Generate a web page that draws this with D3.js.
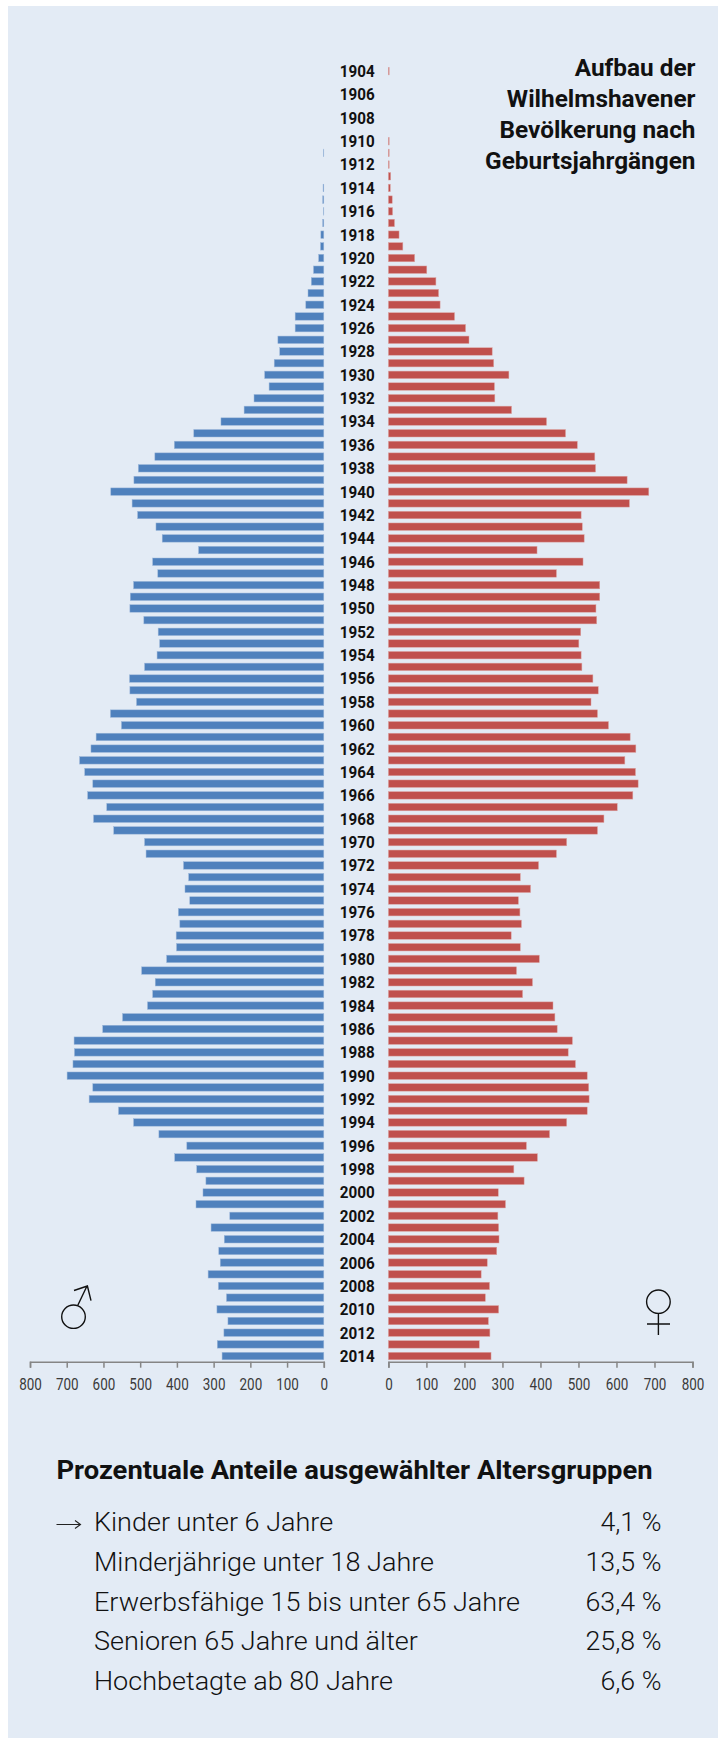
<!DOCTYPE html>
<html lang="de"><head><meta charset="utf-8">
<style>html,body{margin:0;padding:0;background:#fff}svg{display:block}text{font-family:Roboto,sans-serif}</style>
<script src="https://cdn.jsdelivr.net/npm/d3@7"></script></head><body>
<div id="chart"></div>
<script>
const firstYear = 1904;
const male = [0,0,0,0,0,0,0,1,0,0,2,3,1,3,8,9,14,28,34,43,49,78,78,125,120,135,161,149,190,217,280,354,407,460,505,517,580,522,507,457,440,341,466,452,518,527,528,490,451,447,454,488,529,528,510,581,551,620,634,665,651,629,643,591,627,572,488,484,382,368,378,365,396,392,402,401,428,496,459,466,480,548,602,680,679,683,699,629,639,559,518,449,373,406,346,321,329,348,256,307,271,286,282,315,287,265,291,261,272,290,277];
const female = [2,0,0,0,0,0,2,2,2,6,5,10,11,16,28,38,69,101,125,132,136,174,203,212,273,277,317,279,280,324,416,466,497,543,545,628,685,634,507,510,515,391,512,442,556,556,546,548,506,501,507,509,538,552,533,550,579,636,651,622,650,657,643,602,567,550,469,442,395,347,374,342,346,350,323,347,397,337,379,353,433,438,444,484,473,492,523,527,528,523,469,424,363,392,330,357,289,308,288,290,291,285,260,244,266,255,290,263,267,239,270];
const years = male.map((_, i) => firstYear + i);
const axisTicks = [0,100,200,300,400,500,600,700,800];
const titleLines = ["Aufbau der","Wilhelmshavener","Bevölkerung nach","Geburtsjahrgängen"];
const tableHeading = "Prozentuale Anteile ausgewählter Altersgruppen";
const groupLabels = ["Kinder unter 6 Jahre","Minderjährige unter 18 Jahre","Erwerbsfähige 15 bis unter 65 Jahre","Senioren 65 Jahre und älter","Hochbetagte ab 80 Jahre"];
const groupShares = ["4,1 %","13,5 %","63,4 %","25,8 %","6,6 %"];

const W = 726, H = 1738, BLUE = "#4f81bd", RED = "#c0504d", AXIS = "#858585", INK = "#111";
const svg = d3.select("#chart").append("svg").attr("width", W).attr("height", H);
svg.append("rect").attr("x", 8).attr("y", 6).attr("width", 710).attr("height", 1732).attr("fill", "#e3ebf5");

const xL = d3.scaleLinear().domain([0, 800]).range([323.8, 30]);
const xR = d3.scaleLinear().domain([0, 800]).range([388.4, 692.5]);
const y = d3.scaleBand().domain(years).range([65.3, 1361.9]).paddingInner(0.36).paddingOuter(0.18);

// squeeze or widen a text horizontally so that the DIN-like proportions are matched
function fit(sel, factor) {
  sel.each(function () {
    const l = this.getComputedTextLength();
    d3.select(this).attr("textLength", l * factor).attr("lengthAdjust", "spacingAndGlyphs");
  });
  return sel;
}

svg.append("g").selectAll("rect").data(male).join("rect")
  .attr("x", d => xL(d)).attr("width", d => xL(0) - xL(d))
  .attr("y", (d, i) => y(years[i])).attr("height", y.bandwidth())
  .attr("fill", BLUE).attr("stroke", "#9db8da").attr("stroke-width", d => d ? 0.5 : 0);
svg.append("g").selectAll("rect").data(female).join("rect")
  .attr("x", xR(0)).attr("width", d => xR(d) - xR(0))
  .attr("y", (d, i) => y(years[i])).attr("height", y.bandwidth())
  .attr("fill", RED).attr("stroke", "#dba5a4").attr("stroke-width", d => d ? 0.5 : 0);

// year labels
fit(svg.append("g").selectAll("text").data(years.filter(v => v % 2 === 0)).join("text")
  .attr("x", 357.2).attr("y", d => y(d) + y.bandwidth() / 2 + 5.9)
  .attr("text-anchor", "middle").attr("font-size", 16).attr("font-weight", 700).attr("fill", INK)
  .text(d => d), 0.95);

// axes
[[xL, "axis-l"], [xR, "axis-r"]].forEach(([s, c]) => {
  const g = svg.append("g").attr("class", c).attr("transform", "translate(0,1361.7)")
    .call(d3.axisBottom(s).tickValues(axisTicks).tickSize(6).tickPadding(10.5).tickFormat(d3.format("d")));
  g.selectAll("path,line").attr("stroke", AXIS).attr("stroke-width", 1.5);
  g.selectAll("text").attr("font-size", 16).attr("font-weight", 400).attr("fill", "#3a3a3a")
    .attr("font-family", "Roboto");
  fit(g.selectAll("text"), 0.84);
});

// title
fit(svg.append("g").selectAll("text").data(titleLines).join("text")
  .attr("x", 695.5).attr("y", (d, i) => 76 + i * 31)
  .attr("text-anchor", "end").attr("font-size", 24).attr("font-weight", 700).attr("fill", INK)
  .text(d => d), 1.015);

// gender symbols
const sym = svg.append("g").attr("fill", "none").attr("stroke", "#111").attr("stroke-width", 1.4);
sym.append("ellipse").attr("cx", 73.5).attr("cy", 1316.7).attr("rx", 11.8).attr("ry", 11.7);
sym.append("path").attr("d", "M77.7,1305.5L87,1286M74,1290.5L87.4,1286L91,1300.7");
sym.append("ellipse").attr("cx", 658.4).attr("cy", 1301.7).attr("rx", 11.8).attr("ry", 11.7);
sym.append("path").attr("d", "M658.4,1313.5V1335M647,1324H670");

// table
fit(svg.append("text").attr("x", 56.4).attr("y", 1478.5).attr("font-size", 25).attr("font-weight", 700)
  .attr("fill", INK).text(tableHeading), 1.095);
const rowY = i => 1531.3 + i * 39.7;
svg.append("path").attr("d", "M56.5,1524.5H80M75,1520.5L80.5,1524.5L75,1528.5")
  .attr("fill", "none").attr("stroke", "#222").attr("stroke-width", 1.1);
fit(svg.append("g").selectAll("text").data(groupLabels).join("text")
  .attr("x", 94).attr("y", (d, i) => rowY(i)).attr("font-size", 25).attr("font-weight", 300)
  .attr("fill", "#111").text(d => d), 1.08);
fit(svg.append("g").selectAll("text").data(groupShares).join("text")
  .attr("x", 661.5).attr("y", (d, i) => rowY(i)).attr("text-anchor", "end").attr("font-size", 25).attr("font-weight", 300)
  .attr("fill", "#111").text(d => d), 1.07);
</script></body></html>
